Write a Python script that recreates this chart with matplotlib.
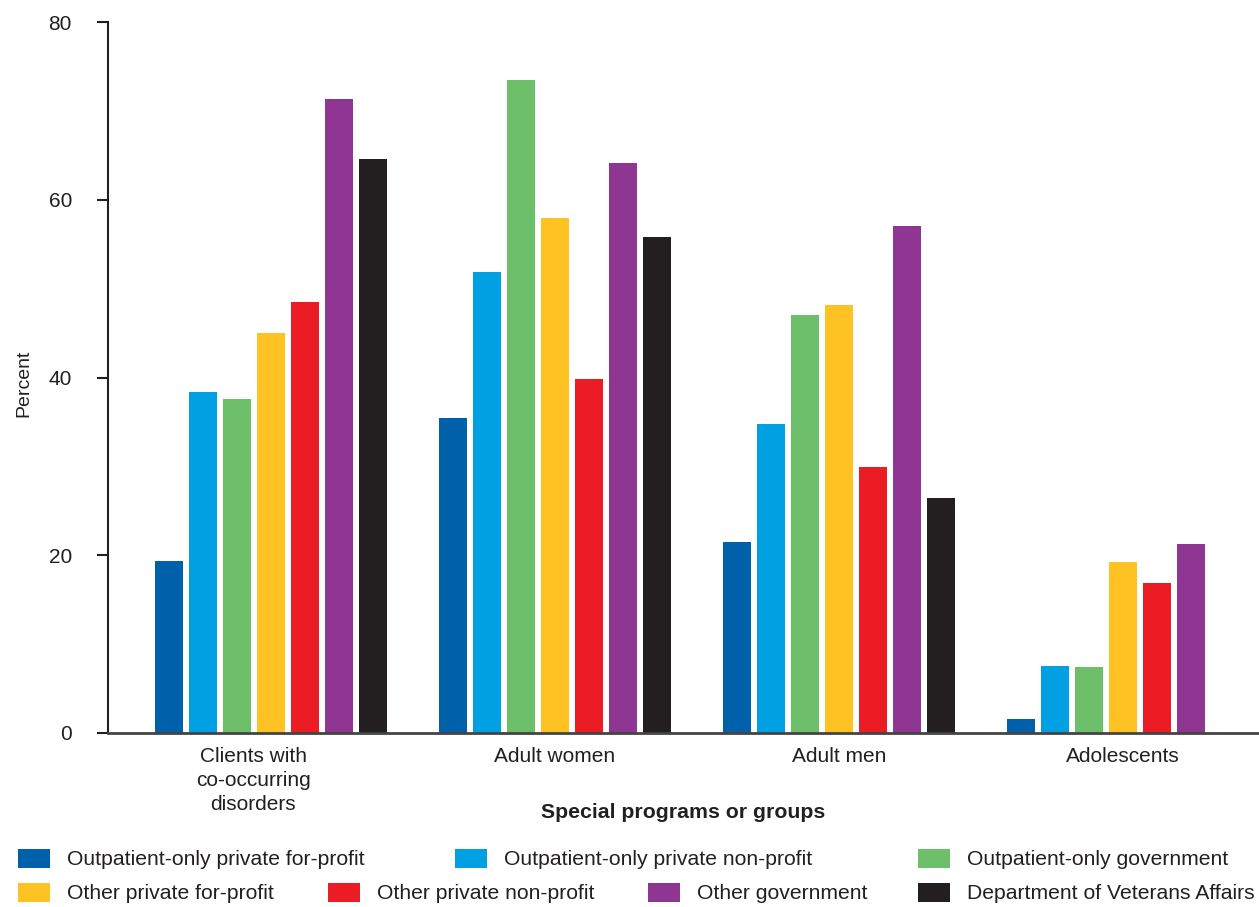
import numpy as np
import matplotlib
matplotlib.use("Agg")
import matplotlib.pyplot as plt
import matplotlib.transforms as mtransforms

plt.rcParams['font.family'] = ['Liberation Sans', 'DejaVu Sans']

# data
groups = ["Clients with\nco-occurring\ndisorders", "Adult women", "Adult men", "Adolescents"]
series = [
    "Outpatient-only private for-profit",
    "Outpatient-only private non-profit",
    "Outpatient-only government",
    "Other private for-profit",
    "Other private non-profit",
    "Other government",
    "Department of Veterans Affairs",
]
op_private_forprofit = [19.4, 35.4, 21.5, 1.6]
op_private_nonprofit = [38.4, 51.9, 34.8, 7.5]
op_government = [37.6, 73.5, 47.0, 7.4]
other_private_forprofit = [45.0, 57.9, 48.2, 19.2]
other_private_nonprofit = [48.5, 39.8, 29.9, 16.9]
other_government = [71.3, 64.1, 57.0, 21.3]
veterans_affairs = [64.6, 55.8, 26.4, np.nan]

values = [op_private_forprofit, op_private_nonprofit, op_government,
          other_private_forprofit, other_private_nonprofit,
          other_government, veterans_affairs]
colors = ["#0061AA", "#00A0E2", "#6DBF6A", "#FEC323", "#EC1C24", "#8E3692", "#231F20"]

text_color = "#231F20"

fig = plt.figure(figsize=(12.59, 9.07), dpi=100)
ax = fig.add_axes([108 / 1259, (907 - 733) / 907, 1151 / 1259, 711 / 907])

x = np.arange(len(groups))
pitch = 0.12
width = 0.0986
bars = []
for i, (vals, col) in enumerate(zip(values, colors)):
    b = ax.bar(x + (i - 3) * pitch, vals, width, color=col, label=series[i])
    bars.append(b)

ax.set_xlim(-0.574, 3.479)
ax.set_ylim(0, 80)
ax.set_yticks([0, 20, 40, 60, 80])
ax.set_xticks(x)
ax.set_xticklabels(groups, fontsize=15, color=text_color, linespacing=1.35)
ax.tick_params(axis='x', length=0, pad=10)
ax.tick_params(axis='y', length=8, width=1.5, labelsize=15, colors=text_color, pad=18)

# first category label sits a bit left of its group in the reference
lbl0 = ax.get_xticklabels()[0]
lbl0.set_transform(lbl0.get_transform() +
                   mtransforms.ScaledTranslation(-18 / 100, 0, fig.dpi_scale_trans))

for s in ["top", "right"]:
    ax.spines[s].set_visible(False)
ax.spines["left"].set_linewidth(1.5)
ax.spines["left"].set_color(text_color)
ax.spines["bottom"].set_linewidth(2)
ax.spines["bottom"].set_color("#444444")

ax.set_ylabel("Percent", fontsize=14, color=text_color)
ax.yaxis.set_label_coords(-0.066, 0.492)
ax.set_xlabel("Special programs or groups", fontsize=15.3, fontweight="bold", color=text_color)
ax.xaxis.set_label_coords(0.5, -0.098)

# legend entries placed like the reference (two rows)
leg_pos = [(18, 859), (455, 859), (918, 859),
           (18, 893), (328, 893), (648, 893), (918, 893)]
for b, name, (px, py) in zip(bars, series, leg_pos):
    fig.legend([b], [name], loc="center left",
               bbox_to_anchor=(px / 1259, 1 - py / 907),
               frameon=False, fontsize=15.2, borderpad=0, borderaxespad=0,
               handlelength=1.52, handleheight=1.05, handletextpad=0.8,
               labelcolor=text_color)

fig.savefig("out.png", dpi=100)
